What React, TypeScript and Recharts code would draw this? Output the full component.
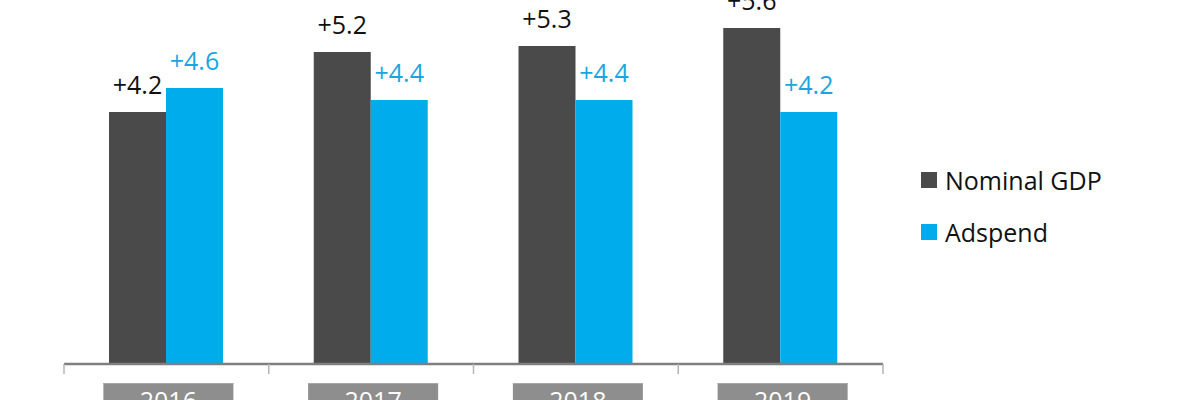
import React from 'react'
import { BarChart, Bar, XAxis, YAxis, LabelList } from 'recharts'

const years = ['2016', '2017', '2018', '2019']
const nominalGdp = [4.2, 5.2, 5.3, 5.6]
const adspend = [4.6, 4.4, 4.4, 4.2]

const data = years.map((year, i) => ({ year, gdp: nominalGdp[i], ad: adspend[i] }))

const W = 1180
const H = 400
const margin = { top: 4, right: 297, left: 64, bottom: 0 }
const band = (W - margin.left - margin.right) / years.length

const FONT = '"Open Sans", sans-serif'

const YearTick = (props: any) => {
  const { x, y, payload, index } = props
  const left = x - band / 2
  return (
    <g>
      <line x1={left} y1={y - 8} x2={left} y2={y + 2} stroke="#b5b5b5" strokeWidth={1.5} />
      {index === years.length - 1 && (
        <line x1={left + band} y1={y - 8} x2={left + band} y2={y + 2} stroke="#b5b5b5" strokeWidth={1.5} />
      )}
      <rect x={x - 63} y={y + 11} width={130} height={40} fill="#8e8e8e" />
      <line x1={x - 63} y1={y + 11.5} x2={x + 67} y2={y + 11.5} stroke="#a8a8a8" strokeWidth={1} />
      <text x={x + 2} y={y + 38} textAnchor="middle" fill="#ffffff" fontSize={25} fontFamily={FONT}>
        {payload.value}
      </text>
    </g>
  )
}

const LegendBox = () => (
  <div style={{ position: 'absolute', left: 921, top: 163, fontFamily: FONT, fontSize: 25, color: '#111', lineHeight: '34px' }}>
    <div style={{ display: 'flex', alignItems: 'center', marginBottom: 18 }}>
      <span style={{ width: 16, height: 16, background: '#4a4a4a', marginRight: 8 }} />
      Nominal GDP
    </div>
    <div style={{ display: 'flex', alignItems: 'center' }}>
      <span style={{ width: 16, height: 16, background: '#00acec', marginRight: 8 }} />
      Adspend
    </div>
  </div>
)

const fmt = (v: any) => `+${Number(v).toFixed(1)}`

export default function App() {
  return (
    <div style={{ position: 'relative', width: W, height: H, background: '#fff', overflow: 'hidden' }}>
      <style>{`body{margin:0}`}</style>
      <BarChart width={W} height={H} data={data} margin={margin} barGap={0} barSize={57}>
        <XAxis
          dataKey="year"
          axisLine={{ stroke: '#7f7f7f', strokeWidth: 2.5 }}
          tickLine={false}
          tick={<YearTick />}
          height={36}
          interval={0}
        />
        <YAxis hide domain={[0, 6]} />
        <Bar dataKey="gdp" fill="#4a4a4a" isAnimationActive={false}>
          <LabelList dataKey="gdp" position="top" offset={18} formatter={fmt} fill="#111" fontSize={25} fontFamily={FONT} />
        </Bar>
        <Bar dataKey="ad" fill="#00acec" isAnimationActive={false}>
          <LabelList dataKey="ad" position="top" offset={18} formatter={fmt} fill="#19a6e0" fontSize={25} fontFamily={FONT} />
        </Bar>
      </BarChart>
      <LegendBox />
    </div>
  )
}
